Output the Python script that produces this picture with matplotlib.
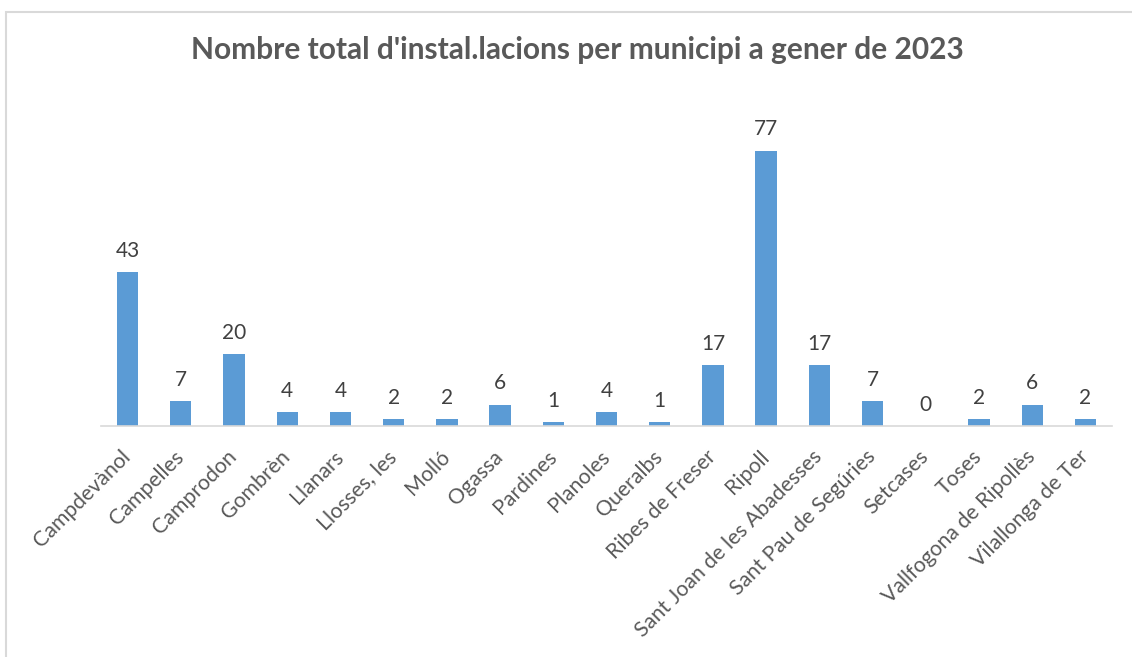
import matplotlib
matplotlib.use("Agg")
import matplotlib.pyplot as plt
from matplotlib.patches import Rectangle

municipis = ["Campdevànol", "Campelles", "Camprodon", "Gombrèn", "Llanars",
             "Llosses, les", "Molló", "Ogassa", "Pardines", "Planoles",
             "Queralbs", "Ribes de Freser", "Ripoll", "Sant Joan de les Abadesses",
             "Sant Pau de Segúries", "Setcases", "Toses", "Vallfogona de Ripollès",
             "Vilallonga de Ter"]
instal = [43, 7, 20, 4, 4, 2, 2, 6, 1, 4, 1, 17, 77, 17, 7, 0, 2, 6, 2]

plt.rcParams['font.family'] = ['Lato', 'DejaVu Sans']

W, H = 1132, 657
fig = plt.figure(figsize=(W / 100, H / 100), dpi=100)

# marc del gràfic
fig.patches.append(Rectangle((6 / W, -0.1), 1.2, 1 - 12 / H + 0.1, transform=fig.transFigure,
                             fill=False, edgecolor="#d9d9d9", linewidth=1.5))

ax = fig.add_axes([101 / W, 1 - 426 / H, (1112 - 101) / W, (426 - 104) / H])
x = range(len(municipis))
bars = ax.bar(x, instal, width=0.4, color="#5b9bd5")
ax.bar_label(bars, labels=[str(v) for v in instal], padding=8, fontsize=15, color="#404040")

ax.set_xlim(-0.5, len(municipis) - 0.5)
ax.set_ylim(0, 90)
ax.set_yticks([])
for s in ["top", "right", "left"]:
    ax.spines[s].set_visible(False)
ax.spines["bottom"].set_color("#d9d9d9")
ax.spines["bottom"].set_linewidth(1.2)
ax.set_xticks(list(x))
ax.set_xticklabels(municipis, rotation=45, ha="right", va="center", rotation_mode="anchor",
                   fontsize=15.3, color="#595959")
ax.tick_params(axis="x", length=0, pad=20)

fig.text(577 / W, 1 - 50 / H, "Nombre total d'instal.lacions per municipi a gener de 2023",
         ha="center", va="center", fontsize=21.5, fontweight="bold", color="#595959")

fig.savefig("out.png", dpi=100)
